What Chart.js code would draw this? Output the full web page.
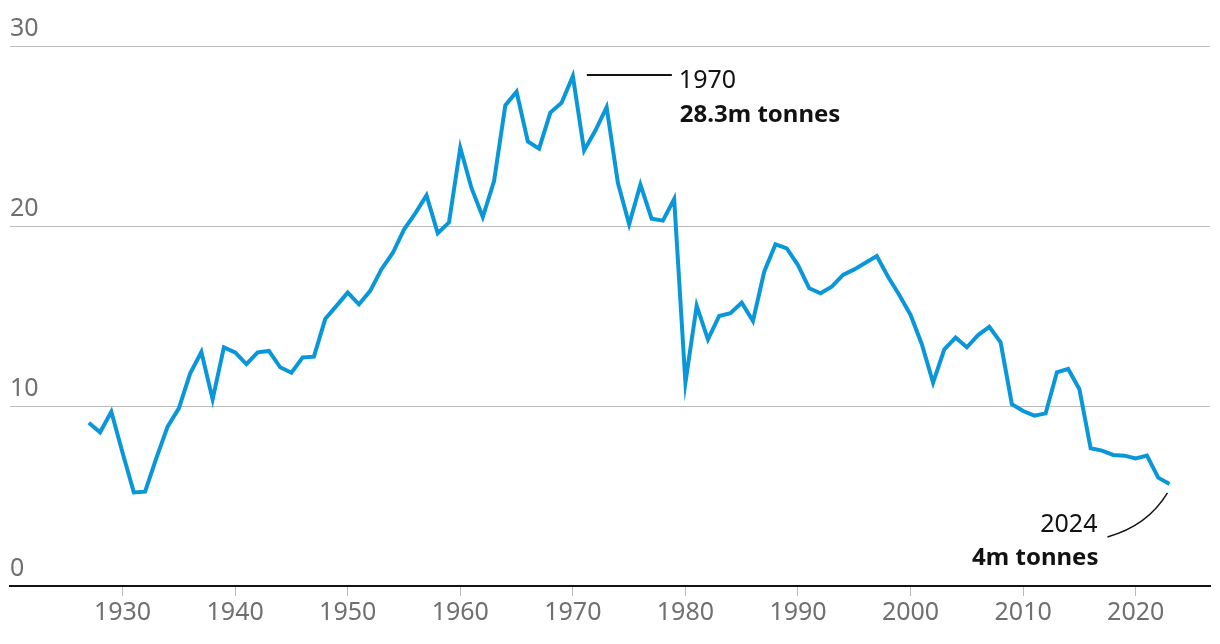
<!DOCTYPE html>
<html>
<head>
<meta charset="utf-8">
<script src="https://cdn.jsdelivr.net/npm/chart.js@4"></script>
<style>
  html, body { margin: 0; padding: 0; background: #fff; }
  #wrap { width: 1220px; height: 644px; position: relative; }
</style>
</head>
<body>
<div id="wrap"><canvas id="catchChart"></canvas></div>
<script>
const years = [];
for (let y = 1927; y <= 2023; y++) years.push(y);

const catchValues = [
    9.07, 8.54, 9.68, 7.4, 5.2, 5.24, 7.1, 8.85, 9.87, 11.8,
    13.0, 10.37, 13.26, 12.98, 12.33, 12.98, 13.06, 12.15, 11.85, 12.7,
    12.74, 14.83, 15.56, 16.3, 15.65, 16.4, 17.6, 18.5, 19.8, 20.7,
    21.7, 19.6, 20.2, 24.35, 22.1, 20.5, 22.5, 26.7, 27.46, 24.7,
    24.3, 26.3, 26.85, 28.33, 24.2, 25.3, 26.6, 22.4, 20.1, 22.3,
    20.4, 20.3, 21.5, 11.3, 15.57, 13.7, 15.0, 15.15, 15.74, 14.72,
    17.46, 18.98, 18.76, 17.83, 16.54, 16.26, 16.63, 17.28, 17.59, 17.96,
    18.33, 17.18, 16.17, 15.06, 13.43, 11.3, 13.15, 13.8, 13.26, 13.94,
    14.4, 13.54, 10.1, 9.72, 9.46, 9.59, 11.87, 12.06, 10.93, 7.65,
    7.52, 7.28, 7.24, 7.09, 7.24, 6.02, 5.67
];

const xTicks = [1930, 1940, 1950, 1960, 1970, 1980, 1990, 2000, 2010, 2020];
const yTicks = [0, 10, 20, 30];

const FONT = '"Noto Sans", "Open Sans", sans-serif';

const annotations = {
    id: 'annotations',
    afterDraw(chart) {
        const ctx = chart.ctx;
        const pts = chart.getDatasetMeta(0).data;
        const peak = pts[years.indexOf(1970)];
        const last = pts[pts.length - 1];

        ctx.save();
        ctx.strokeStyle = '#121212';
        ctx.lineWidth = 2;

        // peak leader line
        ctx.beginPath();
        ctx.moveTo(peak.x + 14, peak.y - 1);
        ctx.lineTo(peak.x + 99, peak.y - 1);
        ctx.stroke();

        // curved pointer to the last point
        ctx.lineWidth = 1.5;
        ctx.beginPath();
        ctx.moveTo(last.x - 62, last.y + 53);
        ctx.quadraticCurveTo(last.x - 22, last.y + 42, last.x - 2, last.y + 9);
        ctx.stroke();

        ctx.fillStyle = '#121212';
        ctx.textBaseline = 'middle';
        ctx.textAlign = 'left';
        ctx.font = '25px ' + FONT;
        ctx.fillText('1970', peak.x + 106, peak.y + 5);
        ctx.font = 'bold 24px ' + FONT;
        ctx.fillText('28.3m tonnes', peak.x + 107, peak.y + 39);

        ctx.textAlign = 'right';
        ctx.font = '25px ' + FONT;
        ctx.fillText('2024', last.x - 72, last.y + 41);
        ctx.font = 'bold 24px ' + FONT;
        ctx.fillText('4m tonnes', last.x - 71, last.y + 74);
        ctx.restore();
    }
};

new Chart(document.getElementById('catchChart'), {
    type: 'line',
    data: {
        datasets: [{
            data: years.map((y, i) => ({ x: y, y: catchValues[i] })),
            borderColor: '#0a97d9',
            borderWidth: 4,
            pointRadius: 0,
            tension: 0,
            fill: false,
            clip: false
        }]
    },
    options: {
        responsive: true,
        maintainAspectRatio: false,
        animation: false,
        layout: { padding: { left: 10, right: 10, top: 46, bottom: 0 } },
        scales: {
            x: {
                type: 'linear',
                min: 1920,
                max: 2026.6,
                afterFit: (s) => { s.height = 58; },
                afterBuildTicks: (s) => { s.ticks = xTicks.map(v => ({ value: v })); },
                border: { display: true, color: '#121212', width: 2 },
                grid: { drawOnChartArea: false, drawTicks: true, tickLength: 10, color: '#bbbbbb', lineWidth: 1 },
                ticks: {
                    color: '#707070',
                    padding: 2,
                    maxRotation: 0,
                    font: { family: FONT, size: 25 },
                    callback: (v) => String(v)
                }
            },
            y: {
                min: 0,
                max: 30,
                afterFit: (s) => { s.width = 0; },
                afterBuildTicks: (s) => { s.ticks = yTicks.map(v => ({ value: v })); },
                border: { display: false },
                grid: {
                    drawTicks: false,
                    color: (c) => c.tick && c.tick.value === 0 ? 'rgba(0,0,0,0)' : '#bbbbbb',
                    lineWidth: 1
                },
                ticks: {
                    mirror: true,
                    padding: 0,
                    labelOffset: -17,
                    color: '#707070',
                    font: { family: FONT, size: 25 }
                }
            }
        },
        plugins: {
            legend: { display: false },
            tooltip: { enabled: false }
        }
    },
    plugins: [annotations]
});
</script>
</body>
</html>
